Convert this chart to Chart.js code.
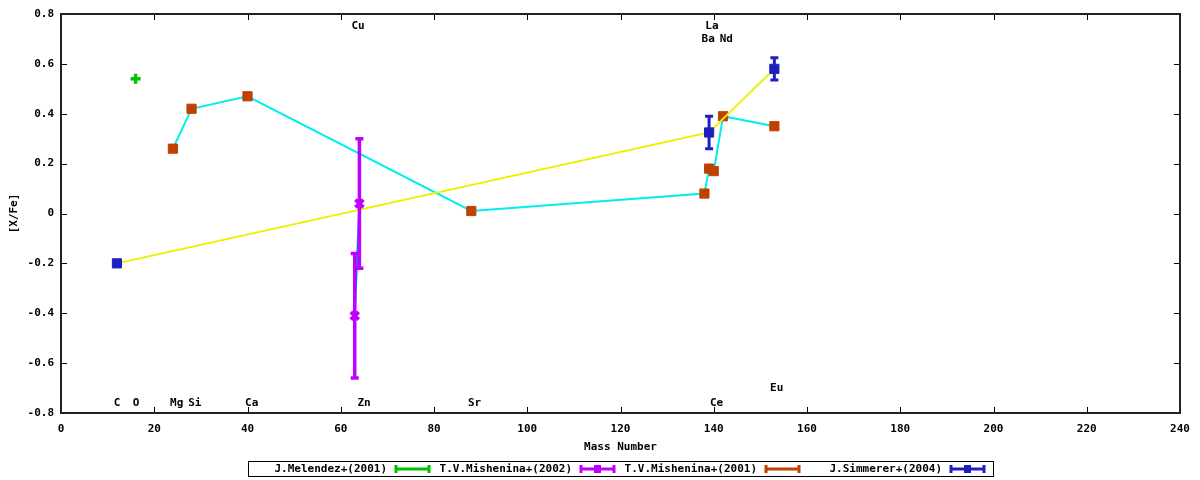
<!DOCTYPE html>
<html>
<head>
<meta charset="utf-8">
<title>[X/Fe] vs Mass Number</title>
<script src="https://cdn.jsdelivr.net/npm/chart.js@4.4.1/dist/chart.umd.min.js"></script>
<style>
  html, body { margin: 0; padding: 0; background: #fff; }
  canvas { display: block; }
</style>
</head>
<body>
<canvas id="grafico" width="1200" height="480"></canvas>
<script>
// Datos
const masaMelendez = [16];
const xfeMelendez = [0.54];

const masaMish2002 = [63, 64];
const xfeMish2002 = [-0.41, 0.04];
const errMish2002 = [0.25, 0.26];

const masaMish2001 = [24, 28, 40, 88, 138, 139, 140, 142, 153];
const xfeMish2001 = [0.26, 0.42, 0.47, 0.01, 0.08, 0.18, 0.17, 0.39, 0.35];

const masaSimmerer = [12, 139, 153];
const xfeSimmerer = [-0.20, 0.325, 0.58];
const errSimmerer = [0, 0.065, 0.045];

// Nombres de elementos (posicion en unidades de datos)
const elementos = ["C", "O", "Mg", "Si", "Ca", "Cu", "Zn", "Sr", "Ba", "La", "Ce", "Nd", "Eu"];
const elementoMasa = [12, 16.1, 24.8, 28.7, 40.9, 63.7, 65, 88.7, 138.8, 139.6, 140.6, 142.7, 153.5];
const elementoY = [-0.76, -0.76, -0.76, -0.76, -0.76, 0.75, -0.76, -0.76, 0.70, 0.75, -0.76, 0.70, -0.70];

const leyenda = ["J.Melendez+(2001)", "T.V.Mishenina+(2002)", "T.V.Mishenina+(2001)", "J.Simmerer+(2004)"];

const fuente = 'bold 11px "DejaVu Sans Mono"';

function puntos(xs, ys) {
  return xs.map((x, i) => ({ x: x, y: ys[i] }));
}

// Barras de error, dibujadas con cada serie
const barrasError = {
  id: "barrasError",
  afterDatasetDraw(chart, args) {
    const ds = chart.data.datasets[args.index];
    if (!ds.errores) return;
    const ctx = chart.ctx;
    const xs = chart.scales.x, ys = chart.scales.y;
    ctx.save();
    ctx.strokeStyle = ds.pointBackgroundColor;
    ctx.lineWidth = ds.grosorError || 3;
    ds.data.forEach((p, i) => {
      const e = ds.errores[i];
      if (!e) return;
      const px = xs.getPixelForValue(p.x);
      const y1 = ys.getPixelForValue(p.y + e);
      const y2 = ys.getPixelForValue(p.y - e);
      ctx.beginPath();
      ctx.moveTo(px, y1); ctx.lineTo(px, y2);
      ctx.moveTo(px - 4, y1); ctx.lineTo(px + 4, y1);
      ctx.moveTo(px - 4, y2); ctx.lineTo(px + 4, y2);
      ctx.stroke();
    });
    ctx.restore();
  }
};

// Marco, marcas interiores, textos y leyenda al estilo gnuplot
const marco = {
  id: "marco",
  afterDraw(chart) {
    const ctx = chart.ctx;
    const a = chart.chartArea;
    const xs = chart.scales.x, ys = chart.scales.y;
    ctx.save();
    ctx.strokeStyle = "#000";
    ctx.lineWidth = 1;
    ctx.beginPath();
    xs.ticks.forEach(t => {
      const px = Math.round(xs.getPixelForValue(t.value)) + 0.5;
      ctx.moveTo(px, a.bottom); ctx.lineTo(px, a.bottom - 6);
      ctx.moveTo(px, a.top); ctx.lineTo(px, a.top + 6);
    });
    ys.ticks.forEach(t => {
      const py = Math.round(ys.getPixelForValue(t.value)) + 0.5;
      ctx.moveTo(a.left, py); ctx.lineTo(a.left + 6, py);
      ctx.moveTo(a.right, py); ctx.lineTo(a.right - 6, py);
    });
    ctx.stroke();
    ctx.strokeStyle = "#222";
    ctx.lineWidth = 2;
    ctx.strokeRect(a.left, a.top, a.right - a.left, a.bottom - a.top);

    ctx.fillStyle = "#000";
    ctx.font = fuente;
    ctx.textAlign = "center";
    ctx.textBaseline = "middle";
    elementos.forEach((nombre, i) => {
      ctx.fillText(nombre, xs.getPixelForValue(elementoMasa[i]), ys.getPixelForValue(elementoY[i]));
    });

    // Titulos de ejes
    ctx.fillText("Mass Number", (a.left + a.right) / 2, 447);
    ctx.save();
    ctx.translate(14, (a.top + a.bottom) / 2);
    ctx.rotate(-Math.PI / 2);
    ctx.fillText("[X/Fe]", 0, 0);
    ctx.restore();

    // Leyenda
    ctx.strokeStyle = "#000";
    ctx.lineWidth = 1;
    ctx.strokeRect(248.5, 461.5, 745, 15);
    const colores = ["#00c000", "#c000ff", "#c04000", "#2020c0"];
    ctx.textAlign = "right";
    leyenda.forEach((texto, i) => {
      const x0 = 387 + 185 * i;
      const yc = 469;
      ctx.fillStyle = "#000";
      ctx.fillText(texto, x0, yc);
      ctx.strokeStyle = colores[i];
      ctx.lineWidth = 3;
      ctx.beginPath();
      ctx.moveTo(x0 + 8, yc); ctx.lineTo(x0 + 43, yc);
      ctx.moveTo(x0 + 9, yc - 4); ctx.lineTo(x0 + 9, yc + 4);
      ctx.moveTo(x0 + 42, yc - 4); ctx.lineTo(x0 + 42, yc + 4);
      ctx.stroke();
      if (i === 1 || i === 3) {
        ctx.fillStyle = colores[i];
        ctx.fillRect(x0 + 22, yc - 4, 7, 8);
      }
    });
    ctx.restore();
  }
};

const ctx = document.getElementById("grafico").getContext("2d");
const grafico = new Chart(ctx, {
  type: "scatter",
  data: {
    datasets: [
      {
        label: leyenda[0],
        data: puntos(masaMelendez, xfeMelendez),
        pointStyle: "cross",
        pointRadius: 5,
        pointBorderWidth: 3.5,
        pointBorderColor: "#00c000",
        pointBackgroundColor: "#00c000",
        order: 0
      },
      {
        label: leyenda[1],
        data: puntos(masaMish2002, xfeMish2002),
        errores: errMish2002,
        grosorError: 3.5,
        showLine: true,
        borderColor: "#0080ff",
        borderWidth: 2,
        pointStyle: "crossRot",
        pointRadius: 5.5,
        pointBorderWidth: 4,
        pointBorderColor: "#c000ff",
        pointBackgroundColor: "#c000ff",
        order: 1
      },
      {
        label: leyenda[2],
        data: puntos(masaMish2001, xfeMish2001),
        showLine: true,
        borderColor: "#00eeee",
        borderWidth: 2,
        pointStyle: "rect",
        pointRadius: 6.5,
        pointBorderWidth: 1,
        pointBorderColor: "#c04000",
        pointBackgroundColor: "#c04000",
        order: 3
      },
      {
        label: leyenda[3],
        data: puntos(masaSimmerer, xfeSimmerer),
        errores: errSimmerer,
        showLine: true,
        borderColor: "#eeee00",
        borderWidth: 2,
        pointStyle: "rect",
        pointRadius: 6.5,
        pointBorderWidth: 1,
        pointBorderColor: "#2020c0",
        pointBackgroundColor: "#2020c0",
        order: 2
      }
    ]
  },
  options: {
    responsive: false,
    animation: false,
    layout: { padding: { top: 14, right: 20, left: 0, bottom: 0 } },
    plugins: {
      legend: { display: false },
      tooltip: { enabled: false }
    },
    scales: {
      x: {
        type: "linear",
        min: 0,
        max: 240,
        grid: { display: false, drawTicks: false },
        border: { display: false },
        ticks: {
          stepSize: 20,
          padding: 10,
          color: "#000",
          maxRotation: 0,
          font: { family: "DejaVu Sans Mono", size: 11, weight: "bold" }
        },
        afterFit: s => { s.height = 67; }
      },
      y: {
        type: "linear",
        min: -0.8,
        max: 0.8,
        grid: { display: false, drawTicks: false },
        border: { display: false },
        ticks: {
          stepSize: 0.2,
          padding: 7,
          color: "#000",
          font: { family: "DejaVu Sans Mono", size: 11, weight: "bold" },
          callback: v => String(+v.toFixed(1))
        },
        afterFit: s => { s.width = 61; }
      }
    }
  },
  plugins: [barrasError, marco]
});
</script>
</body>
</html>
